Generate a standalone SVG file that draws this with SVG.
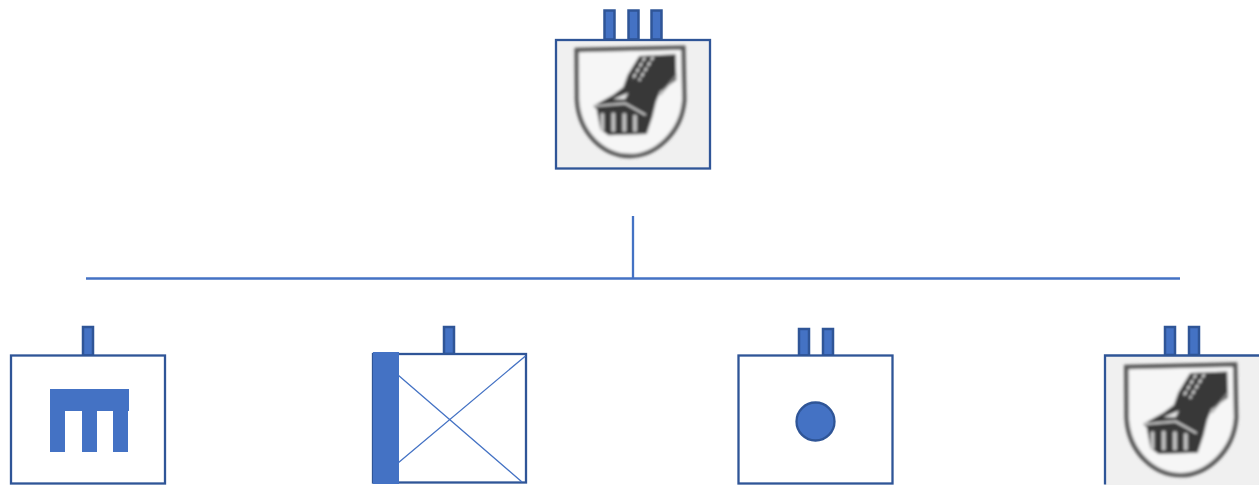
<svg xmlns="http://www.w3.org/2000/svg" width="1259" height="485" viewBox="0 0 1259 485">
<style>
.box{fill:#fff;stroke:#2f5597;stroke-width:2.300}
.img{fill:#f0f0f0;stroke:none}
.frame{fill:none;stroke:#2f5597;stroke-width:2.300}
.stem{fill:#4472c4;stroke:#2f5597;stroke-width:2.500}
.solid{fill:#4472c4;stroke:none}
.conn{fill:none;stroke:#4472c4;stroke-width:2.300}
.thin{fill:none;stroke:#4472c4;stroke-width:1.300}
.dot{fill:#4472c4;stroke:#2f5597;stroke-width:2.300}
</style>
<defs>
<filter id="soft" x="-5%" y="-5%" width="110%" height="110%"><feGaussianBlur stdDeviation="4"/></filter>
<g id="emblem" filter="url(#soft)">
<path d="M95,150 L415,143 L418,300 C410,400 330,468 255,468 C175,468 102,400 96,300 Z" fill="#f6f6f6" stroke="#555" stroke-width="13"/>
<path d="M283,168 L392,163 L394,240 L345,275 L333,305 L322,350 L305,402 L190,406 L166,388 L155,328 L145,318 L205,284 L235,262 L248,225 Z" fill="#393939"/>
<path d="M300,172 L262,238 M325,170 L282,242" stroke="#dcdcdc" stroke-width="7" stroke-dasharray="13 6" fill="none"/>
<path d="M203,298 L250,278 L240,298 Z" fill="#e8e8e8"/>
<path d="M150,318 L240,310 L302,345" stroke="#e2e2e2" stroke-width="5" fill="none"/>
<path d="M172,340 L172,392 M205,338 L205,395 M238,340 L238,395 M270,345 L270,395" stroke="#c8c8c8" stroke-width="11" fill="none"/>
<path d="M345,285 L395,225" stroke="#999" stroke-width="5" fill="none"/>
</g>
</defs>
<g id="connectors">
<path class="conn" d="M633,216 V278"/>
<path class="conn" d="M86,278.500 H1180"/>
</g>
<g id="node-top">
<rect class="stem" x="604.500" y="10.500" width="10" height="29"/>
<rect class="stem" x="628.500" y="10.500" width="10" height="29"/>
<rect class="stem" x="651.500" y="10.500" width="10" height="29"/>
<rect class="img" x="556" y="40" width="154" height="128"/>
<use href="#emblem" transform="translate(545,0) scale(0.3333)"/>
<rect class="frame" x="556" y="40" width="154" height="128.500"/>
</g>
<g id="node-left">
<rect class="stem" x="83" y="327" width="10" height="28.500"/>
<rect class="box" x="11" y="355.500" width="154" height="128"/>
<path class="solid" d="M50,389 H129 V411 H128 V452 H113 V411 H97 V452 H82 V411 H65 V452 H50 Z"/>
</g>
<g id="node-cross">
<rect class="stem" x="444" y="327" width="10" height="27"/>
<rect class="box" x="373" y="354" width="153" height="128.500"/>
<path class="thin" d="M525.500,356 L398,463 M398,375 L522,482"/>
<rect class="solid" x="373" y="352" width="26" height="132"/>
</g>
<g id="node-dot">
<rect class="stem" x="799" y="329" width="10" height="26.500"/>
<rect class="stem" x="823" y="329" width="10" height="26.500"/>
<rect class="box" x="738.500" y="355.500" width="154" height="128"/>
<circle class="dot" cx="815.500" cy="421.500" r="19"/>
</g>
<g id="node-right">
<rect class="stem" x="1165" y="327" width="10" height="28"/>
<rect class="stem" x="1189" y="327" width="10" height="28"/>
<rect class="img" x="1105" y="356" width="154" height="129"/>
<use href="#emblem" transform="translate(1094,316) scale(0.340)"/>
<path class="frame" d="M1259,355.500 H1105 V484.500"/>
</g>
</svg>
